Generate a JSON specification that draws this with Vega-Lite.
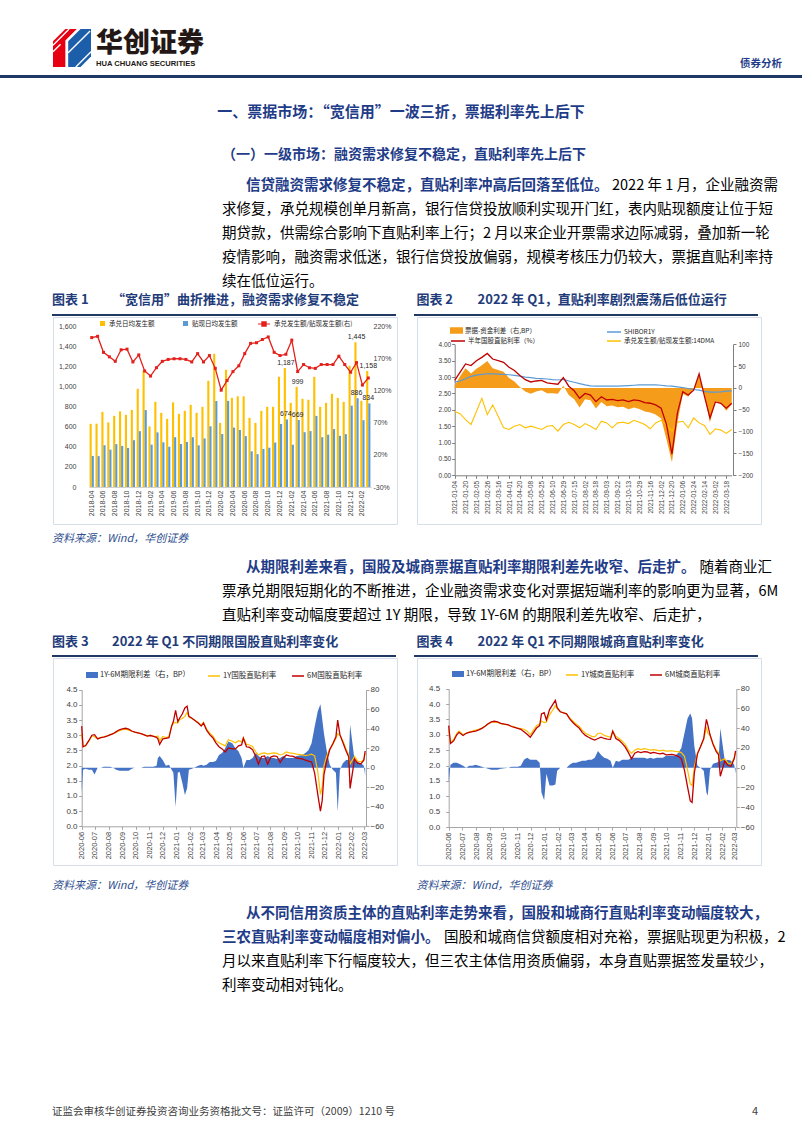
{
"$schema": "https://vega.github.io/schema/vega-lite/v6.json",
"padding": 0,
"background": "white",
"spacing": 0,
"config": {
 "font": "Noto Sans CJK SC",
 "view": {"stroke": null},
 "axis": {"labelFont": "Liberation Sans", "labelColor": "#404040", "grid": false, "title": null},
 "legend": {"labelFont": "Noto Sans CJK SC", "labelColor": "#262626", "title": null},
 "concat": {"spacing": 0}
},
"datasets": {
 "c1": [
  {"m":"2018-04","acc":630,"disc":310,"r":203},{"m":"2018-05","acc":632,"disc":308,"r":205},{"m":"2018-06","acc":750,"disc":417,"r":180},{"m":"2018-07","acc":645,"disc":373,"r":173},{"m":"2018-08","acc":710,"disc":428,"r":166},{"m":"2018-09","acc":755,"disc":410,"r":184},{"m":"2018-10","acc":720,"disc":389,"r":185},{"m":"2018-11","acc":770,"disc":467,"r":165},{"m":"2018-12","acc":980,"disc":557,"r":176},
  {"m":"2019-01","acc":1160,"disc":768,"r":151},{"m":"2019-02","acc":605,"disc":423,"r":143},{"m":"2019-03","acc":850,"disc":545,"r":156},{"m":"2019-04","acc":740,"disc":446,"r":166},{"m":"2019-05","acc":680,"disc":402,"r":169},{"m":"2019-06","acc":845,"disc":497,"r":170},{"m":"2019-07","acc":730,"disc":429,"r":170},{"m":"2019-08","acc":760,"disc":450,"r":169},{"m":"2019-09","acc":820,"disc":497,"r":165},{"m":"2019-10","acc":740,"disc":416,"r":178},{"m":"2019-11","acc":800,"disc":485,"r":165},{"m":"2019-12","acc":1060,"disc":606,"r":175},
  {"m":"2020-01","acc":1330,"disc":858,"r":155},{"m":"2020-02","acc":640,"disc":529,"r":121},{"m":"2020-03","acc":1170,"disc":860,"r":136},{"m":"2020-04","acc":890,"disc":593,"r":150},{"m":"2020-05","acc":905,"disc":569,"r":159},{"m":"2020-06","acc":905,"disc":508,"r":178},{"m":"2020-07","acc":690,"disc":356,"r":194},{"m":"2020-08","acc":640,"disc":328,"r":195},{"m":"2020-09","acc":760,"disc":380,"r":200},{"m":"2020-10","acc":800,"disc":392,"r":204},{"m":"2020-11","acc":800,"disc":444,"r":180},{"m":"2020-12","acc":1100,"disc":629,"r":175},
  {"m":"2021-01","acc":1187,"disc":674,"r":177},{"m":"2021-02","acc":840,"disc":422,"r":199},{"m":"2021-03","acc":999,"disc":669,"r":150},{"m":"2021-04","acc":880,"disc":547,"r":161},{"m":"2021-05","acc":870,"disc":558,"r":156},{"m":"2021-06","acc":1100,"disc":710,"r":155},{"m":"2021-07","acc":800,"disc":497,"r":161},{"m":"2021-08","acc":840,"disc":522,"r":161},{"m":"2021-09","acc":930,"disc":578,"r":161},{"m":"2021-10","acc":890,"disc":511,"r":174},{"m":"2021-11","acc":850,"disc":528,"r":161},{"m":"2021-12","acc":1210,"disc":812,"r":149},
  {"m":"2022-01","acc":1445,"disc":886,"r":164},{"m":"2022-02","acc":860,"disc":667,"r":129},{"m":"2022-03","acc":1158,"disc":834,"r":140}
 ],
 "c2": [
  {"d":"2021-01-04","sp":5,"sh":2.85,"r":2.90,"c":1.95},{"d":"2021-01-12","sp":27,"sh":2.88,"r":3.15,"c":1.88},{"d":"2021-01-20","sp":45,"sh":2.95,"r":3.40,"c":1.70},{"d":"2021-01-28","sp":33,"sh":3.02,"r":3.35,"c":1.55},{"d":"2021-02-05","sp":44,"sh":3.06,"r":3.50,"c":1.95},{"d":"2021-02-19","sp":52,"sh":3.08,"r":3.60,"c":2.35},{"d":"2021-02-26","sp":62,"sh":3.10,"r":3.72,"c":1.85},{"d":"2021-03-08","sp":45,"sh":3.10,"r":3.55,"c":2.15},{"d":"2021-03-16","sp":41,"sh":3.09,"r":3.50,"c":1.80},{"d":"2021-03-24","sp":37,"sh":3.08,"r":3.45,"c":1.45},
  {"d":"2021-04-01","sp":23,"sh":3.07,"r":3.30,"c":1.40},{"d":"2021-04-12","sp":15,"sh":3.05,"r":3.20,"c":1.50},{"d":"2021-04-20","sp":2,"sh":3.03,"r":3.05,"c":1.55},{"d":"2021-04-28","sp":-8,"sh":3.00,"r":2.92,"c":1.45},{"d":"2021-05-08","sp":-13,"sh":2.98,"r":2.85,"c":1.50},{"d":"2021-05-17","sp":-8,"sh":2.96,"r":2.88,"c":1.45},{"d":"2021-05-25","sp":-5,"sh":2.95,"r":2.90,"c":1.40},{"d":"2021-06-02","sp":-12,"sh":2.94,"r":2.82,"c":1.50},{"d":"2021-06-10","sp":-12,"sh":2.92,"r":2.80,"c":1.52},{"d":"2021-06-21","sp":-13,"sh":2.91,"r":2.78,"c":1.35},
  {"d":"2021-06-29","sp":5,"sh":2.93,"r":2.98,"c":1.55},{"d":"2021-07-07","sp":-16,"sh":2.88,"r":2.72,"c":1.62},{"d":"2021-07-15","sp":-26,"sh":2.84,"r":2.58,"c":1.55},{"d":"2021-07-23","sp":-45,"sh":2.80,"r":2.35,"c":1.45},{"d":"2021-08-02","sp":-26,"sh":2.76,"r":2.50,"c":1.58},{"d":"2021-08-10","sp":-28,"sh":2.73,"r":2.45,"c":1.50},{"d":"2021-08-18","sp":-47,"sh":2.72,"r":2.25,"c":1.40},{"d":"2021-08-26","sp":-32,"sh":2.72,"r":2.40,"c":1.65},{"d":"2021-09-03","sp":-42,"sh":2.72,"r":2.30,"c":1.60},{"d":"2021-09-13","sp":-40,"sh":2.72,"r":2.32,"c":1.45},
  {"d":"2021-09-22","sp":-44,"sh":2.72,"r":2.28,"c":1.60},{"d":"2021-09-30","sp":-43,"sh":2.73,"r":2.30,"c":1.62},{"d":"2021-10-13","sp":-49,"sh":2.74,"r":2.25,"c":1.58},{"d":"2021-10-21","sp":-45,"sh":2.75,"r":2.30,"c":1.68},{"d":"2021-10-29","sp":-48,"sh":2.76,"r":2.28,"c":1.62},{"d":"2021-11-08","sp":-54,"sh":2.76,"r":2.22,"c":1.55},{"d":"2021-11-16","sp":-56,"sh":2.76,"r":2.20,"c":1.42},{"d":"2021-11-24","sp":-61,"sh":2.76,"r":2.15,"c":1.60},{"d":"2021-12-02","sp":-70,"sh":2.75,"r":2.05,"c":1.68},{"d":"2021-12-10","sp":-118,"sh":2.73,"r":1.55,"c":1.55},
  {"d":"2021-12-20","sp":-170,"sh":2.72,"r":0.65,"c":1.35},{"d":"2021-12-28","sp":-80,"sh":2.70,"r":1.90,"c":1.62},{"d":"2022-01-06","sp":-13,"sh":2.68,"r":2.55,"c":1.65},{"d":"2022-01-14","sp":-20,"sh":2.65,"r":2.45,"c":1.45},{"d":"2022-01-24","sp":-2,"sh":2.62,"r":2.60,"c":1.75},{"d":"2022-01-28","sp":30,"sh":2.60,"r":3.10,"c":1.60},{"d":"2022-02-14","sp":-16,"sh":2.56,"r":2.40,"c":1.52},{"d":"2022-02-22","sp":-79,"sh":2.54,"r":1.75,"c":1.25},{"d":"2022-03-02","sp":-30,"sh":2.54,"r":2.24,"c":1.42},{"d":"2022-03-10","sp":-35,"sh":2.55,"r":2.20,"c":1.38},
  {"d":"2022-03-18","sp":-52,"sh":2.57,"r":2.05,"c":1.28},{"d":"2022-03-28","sp":-38,"sh":2.58,"r":2.20,"c":1.40}
 ],
 "c3": [
  {"d":"2020-06-01","y1":3.05,"y6":3.30,"sp":-25},{"d":"2020-06-04","y1":2.62,"y6":2.62,"sp":-2},{"d":"2020-06-10","y1":2.65,"y6":2.66,"sp":-1},{"d":"2020-06-17","y1":2.80,"y6":2.82,"sp":-2},{"d":"2020-06-24","y1":2.98,"y6":3.00,"sp":-2},{"d":"2020-06-30","y1":2.95,"y6":3.02,"sp":-7},{"d":"2020-07-07","y1":2.88,"y6":2.88,"sp":0},{"d":"2020-07-14","y1":2.92,"y6":2.92,"sp":0},{"d":"2020-07-21","y1":2.95,"y6":2.94,"sp":1},{"d":"2020-07-28","y1":2.98,"y6":2.97,"sp":1},
  {"d":"2020-08-04","y1":3.02,"y6":3.01,"sp":1},{"d":"2020-08-11","y1":3.05,"y6":3.05,"sp":0},{"d":"2020-08-18","y1":3.10,"y6":3.12,"sp":-2},{"d":"2020-08-25","y1":3.15,"y6":3.18,"sp":-3},{"d":"2020-09-01","y1":3.18,"y6":3.21,"sp":-3},{"d":"2020-09-08","y1":3.20,"y6":3.23,"sp":-3},{"d":"2020-09-15","y1":3.17,"y6":3.20,"sp":-3},{"d":"2020-09-22","y1":3.13,"y6":3.14,"sp":-1},{"d":"2020-09-29","y1":3.10,"y6":3.10,"sp":0},{"d":"2020-10-13","y1":3.05,"y6":3.05,"sp":0},
  {"d":"2020-10-20","y1":3.02,"y6":3.01,"sp":1},{"d":"2020-10-27","y1":2.98,"y6":2.97,"sp":1},{"d":"2020-11-03","y1":3.00,"y6":2.99,"sp":1},{"d":"2020-11-10","y1":2.97,"y6":2.96,"sp":1},{"d":"2020-11-17","y1":2.95,"y6":2.93,"sp":2},{"d":"2020-11-20","y1":2.98,"y6":2.88,"sp":10},{"d":"2020-11-24","y1":2.82,"y6":2.70,"sp":12},{"d":"2020-12-01","y1":2.96,"y6":2.88,"sp":8},{"d":"2020-12-08","y1":2.92,"y6":2.90,"sp":2},{"d":"2020-12-15","y1":2.95,"y6":2.92,"sp":3},
  {"d":"2020-12-21","y1":3.28,"y6":3.30,"sp":-2},{"d":"2020-12-25","y1":3.40,"y6":3.45,"sp":-5},{"d":"2020-12-30","y1":3.42,"y6":3.82,"sp":-40},{"d":"2021-01-04","y1":3.40,"y6":3.45,"sp":-5},{"d":"2021-01-08","y1":3.52,"y6":3.56,"sp":-4},{"d":"2021-01-14","y1":3.55,"y6":3.70,"sp":-15},{"d":"2021-01-20","y1":3.62,"y6":3.90,"sp":-28},{"d":"2021-01-25","y1":3.75,"y6":3.96,"sp":-21},{"d":"2021-01-29","y1":3.60,"y6":3.62,"sp":-2},{"d":"2021-02-05","y1":3.55,"y6":3.56,"sp":-1},
  {"d":"2021-02-19","y1":3.42,"y6":3.40,"sp":2},{"d":"2021-02-26","y1":3.33,"y6":3.30,"sp":3},{"d":"2021-03-03","y1":3.42,"y6":3.40,"sp":2},{"d":"2021-03-10","y1":3.20,"y6":3.17,"sp":3},{"d":"2021-03-17","y1":3.08,"y6":3.02,"sp":6},{"d":"2021-03-24","y1":2.98,"y6":2.92,"sp":6},{"d":"2021-03-31","y1":2.82,"y6":2.75,"sp":7},{"d":"2021-04-07","y1":2.75,"y6":2.62,"sp":13},{"d":"2021-04-14","y1":2.70,"y6":2.55,"sp":15},{"d":"2021-04-21","y1":2.65,"y6":2.45,"sp":20},
  {"d":"2021-04-28","y1":2.85,"y6":2.58,"sp":27},{"d":"2021-05-07","y1":2.80,"y6":2.55,"sp":25},{"d":"2021-05-14","y1":2.75,"y6":2.55,"sp":20},{"d":"2021-05-21","y1":2.82,"y6":2.65,"sp":17},{"d":"2021-05-28","y1":2.78,"y6":2.68,"sp":10},{"d":"2021-06-01","y1":2.92,"y6":2.90,"sp":0},{"d":"2021-06-08","y1":2.70,"y6":2.62,"sp":8},{"d":"2021-06-15","y1":2.68,"y6":2.60,"sp":8},{"d":"2021-06-22","y1":2.62,"y6":2.52,"sp":10},{"d":"2021-06-29","y1":2.45,"y6":2.30,"sp":15},
  {"d":"2021-07-05","y1":2.35,"y6":2.05,"sp":12},{"d":"2021-07-12","y1":2.40,"y6":2.30,"sp":10},{"d":"2021-07-19","y1":2.42,"y6":2.32,"sp":10},{"d":"2021-07-26","y1":2.38,"y6":2.05,"sp":12},{"d":"2021-08-02","y1":2.40,"y6":2.28,"sp":10},{"d":"2021-08-09","y1":2.42,"y6":2.32,"sp":10},{"d":"2021-08-16","y1":2.40,"y6":2.30,"sp":9},{"d":"2021-08-23","y1":2.35,"y6":2.10,"sp":10},{"d":"2021-08-30","y1":2.38,"y6":2.25,"sp":12},{"d":"2021-09-06","y1":2.45,"y6":2.35,"sp":10},
  {"d":"2021-09-13","y1":2.42,"y6":2.32,"sp":10},{"d":"2021-09-22","y1":2.40,"y6":2.30,"sp":10},{"d":"2021-09-29","y1":2.38,"y6":2.25,"sp":12},{"d":"2021-10-12","y1":2.35,"y6":2.22,"sp":13},{"d":"2021-10-19","y1":2.33,"y6":2.18,"sp":15},{"d":"2021-10-26","y1":2.35,"y6":2.15,"sp":18},{"d":"2021-11-02","y1":2.38,"y6":2.12,"sp":25},{"d":"2021-11-09","y1":2.32,"y6":1.75,"sp":42},{"d":"2021-11-16","y1":1.80,"y6":1.05,"sp":58},{"d":"2021-11-22","y1":1.05,"y6":0.50,"sp":65},
  {"d":"2021-11-26","y1":1.30,"y6":0.85,"sp":50},{"d":"2021-11-30","y1":2.00,"y6":1.70,"sp":35},{"d":"2021-12-06","y1":2.30,"y6":2.15,"sp":18},{"d":"2021-12-13","y1":2.55,"y6":2.52,"sp":3},{"d":"2021-12-20","y1":2.70,"y6":2.72,"sp":-2},{"d":"2021-12-27","y1":2.90,"y6":2.95,"sp":-5},{"d":"2021-12-31","y1":3.05,"y6":3.50,"sp":-45},{"d":"2022-01-05","y1":3.00,"y6":3.02,"sp":-2},{"d":"2022-01-12","y1":2.80,"y6":2.75,"sp":5},{"d":"2022-01-19","y1":2.55,"y6":2.48,"sp":8},
  {"d":"2022-01-25","y1":2.35,"y6":2.28,"sp":8},{"d":"2022-01-28","y1":2.05,"y6":1.25,"sp":44},{"d":"2022-02-07","y1":2.30,"y6":2.22,"sp":8},{"d":"2022-02-14","y1":2.15,"y6":2.08,"sp":6},{"d":"2022-02-21","y1":2.12,"y6":2.05,"sp":5},{"d":"2022-02-28","y1":2.20,"y6":2.18,"sp":2},{"d":"2022-03-03","y1":2.40,"y6":2.48,"sp":-8}
 ],
 "c4": [
  {"d":"2020-06-01","y1":3.15,"y6":3.30,"sp":-15},{"d":"2020-06-05","y1":2.75,"y6":2.72,"sp":3},{"d":"2020-06-12","y1":2.85,"y6":2.80,"sp":5},{"d":"2020-06-19","y1":3.05,"y6":3.00,"sp":5},{"d":"2020-06-24","y1":3.12,"y6":3.08,"sp":4},{"d":"2020-07-03","y1":3.00,"y6":2.98,"sp":2},{"d":"2020-07-10","y1":3.05,"y6":3.05,"sp":0},{"d":"2020-07-17","y1":3.10,"y6":3.08,"sp":2},{"d":"2020-07-24","y1":3.12,"y6":3.10,"sp":2},{"d":"2020-07-31","y1":3.15,"y6":3.12,"sp":3},
  {"d":"2020-08-07","y1":3.18,"y6":3.16,"sp":2},{"d":"2020-08-14","y1":3.22,"y6":3.21,"sp":1},{"d":"2020-08-21","y1":3.28,"y6":3.28,"sp":0},{"d":"2020-08-28","y1":3.35,"y6":3.36,"sp":-1},{"d":"2020-09-04","y1":3.40,"y6":3.42,"sp":-2},{"d":"2020-09-11","y1":3.42,"y6":3.44,"sp":-2},{"d":"2020-09-18","y1":3.40,"y6":3.42,"sp":-2},{"d":"2020-09-25","y1":3.36,"y6":3.37,"sp":-1},{"d":"2020-10-12","y1":3.32,"y6":3.32,"sp":0},{"d":"2020-10-19","y1":3.28,"y6":3.27,"sp":1},
  {"d":"2020-10-26","y1":3.25,"y6":3.24,"sp":1},{"d":"2020-11-02","y1":3.22,"y6":3.21,"sp":1},{"d":"2020-11-09","y1":3.20,"y6":3.18,"sp":2},{"d":"2020-11-16","y1":3.18,"y6":3.10,"sp":8},{"d":"2020-11-23","y1":3.12,"y6":3.02,"sp":10},{"d":"2020-11-30","y1":3.00,"y6":2.92,"sp":8},{"d":"2020-12-07","y1":3.15,"y6":3.07,"sp":8},{"d":"2020-12-14","y1":3.30,"y6":3.22,"sp":8},{"d":"2020-12-21","y1":3.35,"y6":3.30,"sp":5},{"d":"2020-12-25","y1":3.45,"y6":3.68,"sp":-25},
  {"d":"2020-12-31","y1":3.40,"y6":3.72,"sp":-33},{"d":"2021-01-05","y1":3.42,"y6":3.48,"sp":-6},{"d":"2021-01-12","y1":3.65,"y6":3.82,"sp":-18},{"d":"2021-01-19","y1":3.80,"y6":3.98,"sp":-18},{"d":"2021-01-25","y1":3.95,"y6":4.12,"sp":-17},{"d":"2021-01-29","y1":3.85,"y6":3.88,"sp":-3},{"d":"2021-02-05","y1":3.75,"y6":3.75,"sp":0},{"d":"2021-02-19","y1":3.68,"y6":3.68,"sp":0},{"d":"2021-02-26","y1":3.55,"y6":3.52,"sp":3},{"d":"2021-03-05","y1":3.45,"y6":3.40,"sp":5},
  {"d":"2021-03-12","y1":3.35,"y6":3.30,"sp":5},{"d":"2021-03-19","y1":3.28,"y6":3.22,"sp":6},{"d":"2021-03-26","y1":3.15,"y6":3.08,"sp":7},{"d":"2021-04-02","y1":3.05,"y6":2.98,"sp":7},{"d":"2021-04-09","y1":3.00,"y6":2.92,"sp":8},{"d":"2021-04-16","y1":2.95,"y6":2.87,"sp":8},{"d":"2021-04-23","y1":2.93,"y6":2.83,"sp":10},{"d":"2021-04-30","y1":3.05,"y6":2.88,"sp":17},{"d":"2021-05-07","y1":3.05,"y6":2.92,"sp":13},{"d":"2021-05-14","y1":2.98,"y6":2.88,"sp":10},
  {"d":"2021-05-21","y1":2.95,"y6":2.86,"sp":9},{"d":"2021-05-28","y1":2.92,"y6":2.85,"sp":7},{"d":"2021-06-02","y1":3.12,"y6":3.12,"sp":0},{"d":"2021-06-09","y1":2.95,"y6":2.88,"sp":7},{"d":"2021-06-16","y1":2.88,"y6":2.82,"sp":6},{"d":"2021-06-23","y1":2.80,"y6":2.72,"sp":8},{"d":"2021-06-30","y1":2.68,"y6":2.60,"sp":8},{"d":"2021-07-07","y1":2.50,"y6":2.42,"sp":8},{"d":"2021-07-14","y1":2.40,"y6":2.22,"sp":10},{"d":"2021-07-21","y1":2.50,"y6":2.40,"sp":10},
  {"d":"2021-07-28","y1":2.55,"y6":2.45,"sp":10},{"d":"2021-08-04","y1":2.52,"y6":2.42,"sp":10},{"d":"2021-08-11","y1":2.55,"y6":2.45,"sp":10},{"d":"2021-08-18","y1":2.53,"y6":2.44,"sp":9},{"d":"2021-08-25","y1":2.50,"y6":2.40,"sp":10},{"d":"2021-09-01","y1":2.52,"y6":2.43,"sp":9},{"d":"2021-09-08","y1":2.50,"y6":2.40,"sp":10},{"d":"2021-09-15","y1":2.48,"y6":2.38,"sp":10},{"d":"2021-09-22","y1":2.50,"y6":2.40,"sp":10},{"d":"2021-09-29","y1":2.47,"y6":2.35,"sp":12},
  {"d":"2021-10-12","y1":2.48,"y6":2.36,"sp":12},{"d":"2021-10-19","y1":2.46,"y6":2.34,"sp":12},{"d":"2021-10-26","y1":2.45,"y6":2.30,"sp":15},{"d":"2021-11-02","y1":2.42,"y6":2.22,"sp":20},{"d":"2021-11-09","y1":2.30,"y6":1.85,"sp":35},{"d":"2021-11-16","y1":1.85,"y6":1.30,"sp":50},{"d":"2021-11-22","y1":1.40,"y6":0.85,"sp":55},{"d":"2021-11-26","y1":1.35,"y6":0.80,"sp":50},{"d":"2021-12-01","y1":1.95,"y6":1.75,"sp":22},{"d":"2021-12-08","y1":2.40,"y6":2.38,"sp":2},
  {"d":"2021-12-15","y1":2.62,"y6":2.62,"sp":0},{"d":"2021-12-22","y1":2.85,"y6":2.88,"sp":-3},{"d":"2021-12-28","y1":3.25,"y6":3.50,"sp":-25},{"d":"2021-12-31","y1":3.05,"y6":3.33,"sp":-28},{"d":"2022-01-05","y1":2.98,"y6":3.00,"sp":-2},{"d":"2022-01-12","y1":2.72,"y6":2.68,"sp":4},{"d":"2022-01-19","y1":2.50,"y6":2.45,"sp":5},{"d":"2022-01-24","y1":2.42,"y6":2.36,"sp":6},{"d":"2022-01-28","y1":2.15,"y6":1.65,"sp":40},{"d":"2022-02-07","y1":2.22,"y6":2.15,"sp":7},
  {"d":"2022-02-14","y1":2.08,"y6":2.00,"sp":8},{"d":"2022-02-21","y1":2.05,"y6":1.98,"sp":7},{"d":"2022-02-28","y1":2.25,"y6":2.22,"sp":3},{"d":"2022-03-03","y1":2.42,"y6":2.48,"sp":-6}
 ]
},
"vconcat": [
 {"spacing": 0, "hconcat": [
  {"width": 50, "height": 1, "data": {"values": []}, "mark": "point"},
  {"width": 170, "height": 75,
   "encoding": {
    "x": {"field": "col", "type": "quantitative", "scale": {"domain": [0, 1], "range": [0, 4]}, "axis": null},
    "y": {"field": "row", "type": "quantitative", "scale": {"domain": [0, 1], "range": [0, 4]}, "axis": null}
   },
   "layer": [
    {"data": {"values": [{"col": 5, "row": 12}]}, "mark": {"type": "point", "shape": "M-1,-0.35L-0.35,-1L0.25,-1L-0.35,-0.4L-0.35,1L-1,1Z", "size": 1444, "filled": true, "color": "#e60012", "opacity": 1, "strokeWidth": 0}},
    {"data": {"values": [{"col": 5, "row": 12}]}, "mark": {"type": "point", "shape": "M-0.2,-0.35L0.45,-1L1,-1L1,0.45L0.45,1L-0.2,1Z", "size": 1444, "filled": true, "color": "#1d5eab", "opacity": 1, "strokeWidth": 0}},
    {"data": {"values": [{"col": 5, "row": 12}]}, "mark": {"type": "point", "shape": "M-1,-0.15L-0.15,-1M-1,0.2L-0.6,-0.2M0.2,1L1,0.2M0.6,1L1,0.6M-0.2,0.25L0.95,-0.9", "size": 1444, "filled": false, "stroke": "#ffffff", "strokeWidth": 1.4, "opacity": 1}},
    {"data": {"values": [{"col": 11, "row": 11, "t": "华创证券"}]}, "mark": {"type": "text", "align": "left", "baseline": "middle", "fontSize": 27, "fontWeight": 900, "color": "#231815"}, "encoding": {"text": {"field": "t"}}},
    {"data": {"values": [{"col": 11, "row": 16, "t": "HUA CHUANG SECURITIES"}]}, "mark": {"type": "text", "align": "left", "baseline": "middle", "fontSize": 7.6, "fontWeight": "bold", "font": "Liberation Sans", "color": "#231815"}, "encoding": {"text": {"field": "t"}}}
   ]
  },
  {"width": 518, "height": 1, "data": {"values": []}, "mark": "point"},
  {"width": 64, "height": 75,
   "data": {"values": [{"col": 0, "row": 16, "t": "债券分析"}]},
   "mark": {"type": "text", "align": "left", "baseline": "middle", "fontSize": 10.5, "fontWeight": "bold", "color": "#1f3c88"},
   "encoding": {
    "x": {"field": "col", "type": "quantitative", "scale": {"domain": [0, 1], "range": [0, 4]}, "axis": null},
    "y": {"field": "row", "type": "quantitative", "scale": {"domain": [0, 1], "range": [0, 4]}, "axis": null},
    "text": {"field": "t"}
   }
  }
 ]},
 {"width": 802, "height": 3, "data": {"values": []}, "mark": "point", "view": {"fill": "#1f3864", "stroke": null}},
 {"width": 802, "height": 68,
  "data": {"values": [{"t": "一、票据市场：“宽信用”一波三折，票据利率先上后下"}]},
  "mark": {"type": "text", "align": "center", "baseline": "middle", "fontSize": 15, "fontWeight": "bold", "color": "#1f3c88"},
  "encoding": {"text": {"field": "t"}}
 },
 {"spacing": 0, "hconcat": [
  {"width": 222, "height": 1, "data": {"values": []}, "mark": "point"},
  {"width": 580, "height": 20,
   "data": {"values": [{"col": 0, "line": 0, "t": "（一）一级市场：融资需求修复不稳定，直贴利率先上后下"}]},
   "mark": {"type": "text", "align": "left", "baseline": "middle", "fontSize": 14, "fontWeight": "bold", "color": "#1f3c88"},
   "encoding": {
    "x": {"field": "col", "type": "quantitative", "scale": {"domain": [0, 1], "range": [0, 12]}, "axis": null},
    "y": {"field": "line", "type": "quantitative", "scale": {"domain": [0, 1], "range": [9, 33]}, "axis": null},
    "text": {"field": "t"}
   }
  }
 ]},
 {"spacing": 0, "hconcat": [
  {"width": 222, "height": 1, "data": {"values": []}, "mark": "point"},
  {"width": 580, "height": 123,
   "data": {"values": [
    {"line": 0, "col": 2, "s": "b", "t": "信贷融资需求修复不稳定，直贴利率冲高后回落至低位。"},
    {"line": 0, "col": 32.5, "s": "n", "t": "2022 年 1 月，企业融资需"},
    {"line": 1, "col": 0, "s": "n", "t": "求修复，承兑规模创单月新高，银行信贷投放顺利实现开门红，表内贴现额度让位于短"},
    {"line": 2, "col": 0, "s": "n", "t": "期贷款，供需综合影响下直贴利率上行；2 月以来企业开票需求边际减弱，叠加新一轮"},
    {"line": 3, "col": 0, "s": "n", "t": "疫情影响，融资需求低迷，银行信贷投放偏弱，规模考核压力仍较大，票据直贴利率持"},
    {"line": 4, "col": 0, "s": "n", "t": "续在低位运行。"}
   ]},
   "encoding": {
    "x": {"field": "col", "type": "quantitative", "scale": {"domain": [0, 1], "range": [0, 12]}, "axis": null},
    "y": {"field": "line", "type": "quantitative", "scale": {"domain": [0, 1], "range": [20, 44]}, "axis": null},
    "text": {"field": "t"}
   },
   "layer": [
    {"transform": [{"filter": "datum.s === 'n'"}], "mark": {"type": "text", "align": "left", "baseline": "middle", "fontSize": 14.5, "color": "#000000"}},
    {"transform": [{"filter": "datum.s === 'b'"}], "mark": {"type": "text", "align": "left", "baseline": "middle", "fontSize": 14.5, "fontWeight": "bold", "color": "#1f3c88"}}
   ]
  }
 ]},
 {"spacing": 0, "hconcat": [
  {"width": 52, "height": 1, "data": {"values": []}, "mark": "point"},
  {"width": 344, "height": 25,
   "data": {"values": [{"col": 0, "line": 0, "t": "图表 1"}, {"col": 5, "line": 0, "t": "“宽信用”曲折推进，融资需求修复不稳定"}]},
   "mark": {"type": "text", "align": "left", "baseline": "middle", "fontSize": 13, "fontWeight": "bold", "color": "#1f3c7a"},
   "encoding": {
    "x": {"field": "col", "type": "quantitative", "scale": {"domain": [0, 1], "range": [0, 12]}, "axis": null},
    "y": {"field": "line", "type": "quantitative", "scale": {"domain": [0, 1], "range": [11, 35]}, "axis": null},
    "text": {"field": "t"}
   }
  },
  {"width": 18, "height": 1, "data": {"values": []}, "mark": "point"},
  {"width": 344, "height": 25,
   "data": {"values": [{"col": 0.2, "line": 0, "t": "图表 2"}, {"col": 5.3, "line": 0, "t": "2022 年 Q1，直贴利率剧烈震荡后低位运行"}]},
   "mark": {"type": "text", "align": "left", "baseline": "middle", "fontSize": 13, "fontWeight": "bold", "color": "#1f3c7a"},
   "encoding": {
    "x": {"field": "col", "type": "quantitative", "scale": {"domain": [0, 1], "range": [0, 12]}, "axis": null},
    "y": {"field": "line", "type": "quantitative", "scale": {"domain": [0, 1], "range": [11, 35]}, "axis": null},
    "text": {"field": "t"}
   }
  }
 ]},
 {"spacing": 0, "hconcat": [
  {"width": 52, "height": 1, "data": {"values": []}, "mark": "point"},
  {"width": 344, "height": 2, "data": {"values": []}, "mark": "point", "view": {"fill": "#1f3864", "stroke": null}},
  {"width": 18, "height": 1, "data": {"values": []}, "mark": "point"},
  {"width": 344, "height": 2, "data": {"values": []}, "mark": "point", "view": {"fill": "#1f3864", "stroke": null}}
 ]},
 {"spacing": 0, "hconcat": [
  {"width": 52, "height": 1, "data": {"values": []}, "mark": "point"},
  {"width": 344, "height": 207,
   "view": {"stroke": "#d6dee9", "strokeWidth": 1},
   "data": {"name": "c1"},
   "resolve": {"scale": {"y": "independent", "color": "independent"}},
   "layer": [
    {"transform": [{"fold": ["acc", "disc"], "as": ["s", "v"]}],
     "mark": {"type": "bar"},
     "encoding": {
      "x": {"field": "m", "type": "ordinal", "scale": {"type": "band", "range": [36, 318], "paddingInner": 0.28, "paddingOuter": 0.1},
            "axis": {"orient": "bottom", "offset": -37, "values": ["2018-04","2018-06","2018-08","2018-10","2018-12","2019-02","2019-04","2019-06","2019-08","2019-10","2019-12","2020-02","2020-04","2020-06","2020-08","2020-10","2020-12","2021-02","2021-04","2021-06","2021-08","2021-10","2021-12","2022-02"], "labelAngle": -90, "labelFontSize": 7, "labelPadding": 3, "ticks": false, "domain": true, "domainColor": "#d0d0d0", "title": null}},
      "xOffset": {"field": "s", "type": "nominal", "scale": {"domain": ["acc", "disc"]}},
      "y": {"field": "v", "type": "quantitative", "scale": {"domain": [0, 1600], "range": [170, 9.7], "nice": false, "zero": false},
            "axis": {"orient": "left", "offset": -36, "values": [0,200,400,600,800,1000,1200,1400,1600], "format": ",d", "domain": false, "ticks": false, "labelPadding": 13, "labelFontSize": 7, "title": null}},
      "color": {"field": "s", "type": "nominal", "scale": {"domain": ["acc", "disc"], "range": ["#ffc000", "#5b9bd5"]},
                "legend": {"orient": "none", "legendX": 46, "legendY": 3, "direction": "horizontal", "title": null, "labelExpr": "datum.value === 'acc' ? '承兑日均发生额' : '贴现日均发生额'", "symbolType": "square", "symbolSize": 25, "labelFontSize": 6.5, "labelOffset": 3, "columnPadding": 27}}
     }
    },
    {"mark": {"type": "line", "strokeWidth": 1.3, "point": {"shape": "square", "size": 9, "filled": true}},
     "encoding": {
      "x": {"field": "m", "type": "ordinal"},
      "y": {"field": "r", "type": "quantitative", "scale": {"domain": [-30, 220], "range": [170, 9.7], "nice": false, "zero": false},
            "axis": {"orient": "right", "offset": -26, "values": [-30,20,70,120,170,220], "labelExpr": "datum.value + '%'", "domain": false, "ticks": false, "labelPadding": 2, "labelFontSize": 7, "title": null}},
      "color": {"datum": "承兑发生额/贴现发生额(右)", "scale": {"range": ["#e3201b"]},
                "legend": {"orient": "none", "legendX": 204, "legendY": 0, "title": null, "symbolType": "M-1,0H1M-0.35,-0.35H0.35V0.35H-0.35Z", "symbolSize": 144, "symbolStrokeWidth": 1.2, "symbolFillColor": "#e3201b", "symbolStrokeColor": "#e3201b", "labelFontSize": 6.5, "labelOffset": 3}}
     }
    },
    {"data": {"values": [
      {"m": "2021-01", "v": 1187, "lab": "1,187"}, {"m": "2021-03", "v": 999, "lab": "999"},
      {"m": "2021-01", "v": 674, "lab": "674"}, {"m": "2021-03", "v": 669, "lab": "669"},
      {"m": "2022-01", "v": 1445, "lab": "1,445"}, {"m": "2022-01", "v": 886, "lab": "886"},
      {"m": "2022-03", "v": 1158, "lab": "1,158"}, {"m": "2022-03", "v": 834, "lab": "834"}]},
     "mark": {"type": "text", "fontSize": 7, "baseline": "bottom", "dy": -2, "color": "#262626", "font": "Liberation Sans"},
     "encoding": {
      "x": {"field": "m", "type": "ordinal"},
      "y": {"field": "v", "type": "quantitative", "scale": {"domain": [0, 1600], "range": [170, 9.7], "nice": false, "zero": false}, "axis": null},
      "text": {"field": "lab"}
     }
    }
   ]
  },
  {"width": 18, "height": 1, "data": {"values": []}, "mark": "point"},
  {"width": 344, "height": 207,
   "view": {"stroke": "#d6dee9", "strokeWidth": 1},
   "data": {"name": "c2"},
   "resolve": {"scale": {"y": "independent", "color": "independent"}},
   "encoding": {
    "x": {"field": "d", "type": "ordinal", "scale": {"type": "point", "range": [37.7, 314.7], "padding": 0},
          "axis": {"orient": "bottom", "offset": -48.7, "values": ["2021-01-04","2021-01-20","2021-02-05","2021-02-26","2021-03-16","2021-04-01","2021-04-20","2021-05-08","2021-05-25","2021-06-10","2021-06-29","2021-07-15","2021-08-02","2021-08-18","2021-09-03","2021-09-22","2021-10-13","2021-10-29","2021-11-16","2021-12-02","2021-12-20","2022-01-06","2022-01-24","2022-02-14","2022-03-02","2022-03-18"], "labelAngle": -90, "labelFontSize": 6.5, "labelPadding": 2, "ticks": true, "tickSize": 3, "tickColor": "#7f7f7f", "domain": true, "domainColor": "#7f7f7f", "title": null}}
   },
   "layer": [
    {"mark": {"type": "area", "opacity": 1},
     "encoding": {
      "y": {"field": "sp", "type": "quantitative", "scale": {"domain": [-200, 100], "range": [158.3, 27.3], "nice": false},
            "axis": {"orient": "right", "offset": -28, "values": [-200,-150,-100,-50,0,50,100], "domain": true, "domainColor": "#7f7f7f", "ticks": true, "tickSize": 3, "tickColor": "#7f7f7f", "labelPadding": 2, "labelFontSize": 6.5, "title": null}},
      "color": {"datum": "票据-资金利差（右,BP）", "scale": {"range": ["#f59c1a"]},
                "legend": {"orient": "none", "legendX": 33, "legendY": 7, "title": null, "symbolType": "M-1,-0.5H1V0.5H-1Z", "symbolSize": 169, "symbolStrokeWidth": 0, "labelFontSize": 6.5, "labelOffset": 2}}
     }
    },
    {"mark": {"type": "line", "strokeWidth": 1.2},
     "encoding": {
      "y": {"field": "sh", "type": "quantitative", "scale": {"domain": [0, 4], "range": [158.3, 27.3], "nice": false, "zero": false},
            "axis": {"orient": "left", "offset": -37.7, "values": [0,0.5,1,1.5,2,2.5,3,3.5,4], "format": ".2f", "domain": true, "domainColor": "#7f7f7f", "ticks": true, "tickSize": 3, "tickColor": "#7f7f7f", "labelPadding": 1, "labelFontSize": 6.5, "title": null}},
      "color": {"datum": "SHIBOR1Y", "scale": {"range": ["#5b9bd5"]},
                "legend": {"orient": "none", "legendX": 189, "legendY": 7, "title": null, "symbolType": "stroke", "symbolSize": 196, "symbolStrokeWidth": 1.5, "labelFontSize": 6.5, "labelOffset": 2}}
     }
    },
    {"mark": {"type": "line", "strokeWidth": 1.1},
     "encoding": {
      "y": {"field": "c", "type": "quantitative", "scale": {"domain": [0, 4], "range": [158.3, 27.3], "nice": false, "zero": false}, "axis": null},
      "color": {"datum": "承兑发生额/贴现发生额:14DMA", "scale": {"range": ["#ffc000"]},
                "legend": {"orient": "none", "legendX": 189, "legendY": 16, "title": null, "symbolType": "stroke", "symbolSize": 196, "symbolStrokeWidth": 1.5, "labelFontSize": 6.5, "labelOffset": 2}}
     }
    },
    {"mark": {"type": "line", "strokeWidth": 1.3},
     "encoding": {
      "y": {"field": "r", "type": "quantitative", "scale": {"domain": [0, 4], "range": [158.3, 27.3], "nice": false, "zero": false}, "axis": null},
      "color": {"datum": "半年国股直贴利率（%）", "scale": {"range": ["#c00000"]},
                "legend": {"orient": "none", "legendX": 33, "legendY": 16, "title": null, "symbolType": "stroke", "symbolSize": 196, "symbolStrokeWidth": 1.5, "labelFontSize": 6.5, "labelOffset": 2}}
     }
    }
   ]
  }
 ]},
 {"spacing": 0, "hconcat": [
  {"width": 52, "height": 1, "data": {"values": []}, "mark": "point"},
  {"width": 344, "height": 28,
   "data": {"values": [{"col": 0, "line": 0, "t": "资料来源：Wind，华创证券"}]},
   "mark": {"type": "text", "align": "left", "baseline": "middle", "fontSize": 11, "fontStyle": "italic", "color": "#2f4f8f"},
   "encoding": {
    "x": {"field": "col", "type": "quantitative", "scale": {"domain": [0, 1], "range": [0, 12]}, "axis": null},
    "y": {"field": "line", "type": "quantitative", "scale": {"domain": [0, 1], "range": [14, 38]}, "axis": null},
    "text": {"field": "t"}
   }
  }
 ]},
 {"spacing": 0, "hconcat": [
  {"width": 222, "height": 1, "data": {"values": []}, "mark": "point"},
  {"width": 580, "height": 76,
   "data": {"values": [
    {"line": 0, "col": 2, "s": "b", "t": "从期限利差来看，国股及城商票据直贴利率期限利差先收窄、后走扩。"},
    {"line": 0, "col": 39.8, "s": "n", "t": "随着商业汇"},
    {"line": 1, "col": 0, "s": "n", "t": "票承兑期限短期化的不断推进，企业融资需求变化对票据短端利率的影响更为显著，6M"},
    {"line": 2, "col": 0, "s": "n", "t": "直贴利率变动幅度要超过 1Y 期限，导致 1Y-6M 的期限利差先收窄、后走扩，"}
   ]},
   "encoding": {
    "x": {"field": "col", "type": "quantitative", "scale": {"domain": [0, 1], "range": [0, 12]}, "axis": null},
    "y": {"field": "line", "type": "quantitative", "scale": {"domain": [0, 1], "range": [15, 39]}, "axis": null},
    "text": {"field": "t"}
   },
   "layer": [
    {"transform": [{"filter": "datum.s === 'n'"}], "mark": {"type": "text", "align": "left", "baseline": "middle", "fontSize": 14.5, "color": "#000000"}},
    {"transform": [{"filter": "datum.s === 'b'"}], "mark": {"type": "text", "align": "left", "baseline": "middle", "fontSize": 14.5, "fontWeight": "bold", "color": "#1f3c88"}}
   ]
  }
 ]},
 {"spacing": 0, "hconcat": [
  {"width": 52, "height": 1, "data": {"values": []}, "mark": "point"},
  {"width": 344, "height": 26,
   "data": {"values": [{"col": 0, "line": 0, "t": "图表 3"}, {"col": 5, "line": 0, "t": "2022 年 Q1 不同期限国股直贴利率变化"}]},
   "mark": {"type": "text", "align": "left", "baseline": "middle", "fontSize": 13, "fontWeight": "bold", "color": "#1f3c7a"},
   "encoding": {
    "x": {"field": "col", "type": "quantitative", "scale": {"domain": [0, 1], "range": [0, 12]}, "axis": null},
    "y": {"field": "line", "type": "quantitative", "scale": {"domain": [0, 1], "range": [13, 37]}, "axis": null},
    "text": {"field": "t"}
   }
  },
  {"width": 18, "height": 1, "data": {"values": []}, "mark": "point"},
  {"width": 344, "height": 26,
   "data": {"values": [{"col": 0.2, "line": 0, "t": "图表 4"}, {"col": 5.3, "line": 0, "t": "2022 年 Q1 不同期限城商直贴利率变化"}]},
   "mark": {"type": "text", "align": "left", "baseline": "middle", "fontSize": 13, "fontWeight": "bold", "color": "#1f3c7a"},
   "encoding": {
    "x": {"field": "col", "type": "quantitative", "scale": {"domain": [0, 1], "range": [0, 12]}, "axis": null},
    "y": {"field": "line", "type": "quantitative", "scale": {"domain": [0, 1], "range": [13, 37]}, "axis": null},
    "text": {"field": "t"}
   }
  }
 ]},
 {"spacing": 0, "hconcat": [
  {"width": 52, "height": 1, "data": {"values": []}, "mark": "point"},
  {"width": 344, "height": 2, "data": {"values": []}, "mark": "point", "view": {"fill": "#1f3864", "stroke": null}},
  {"width": 18, "height": 1, "data": {"values": []}, "mark": "point"},
  {"width": 344, "height": 2, "data": {"values": []}, "mark": "point", "view": {"fill": "#1f3864", "stroke": null}}
 ]},
 {"spacing": 0, "hconcat": [
  {"width": 52, "height": 1, "data": {"values": []}, "mark": "point"},
  {"width": 344, "height": 207,
   "view": {"stroke": "#d6dee9", "strokeWidth": 1},
   "data": {"name": "c3"},
   "resolve": {"scale": {"y": "independent", "color": "independent"}},
   "encoding": {
    "x": {"field": "d", "type": "temporal",
          "scale": {"type": "utc", "domain": [{"year": 2020, "month": 6, "date": 1, "utc": true}, {"year": 2022, "month": 3, "date": 4, "utc": true}], "range": [28.7, 312.6]},
          "axis": {"orient": "bottom", "offset": -38.7, "labelExpr": "utcFormat(datum.value, '%Y-%m')", "tickCount": {"interval": "month", "step": 1}, "labelAngle": -90, "labelFontSize": 7.5, "labelPadding": 2, "ticks": true, "tickSize": 3, "tickColor": "#a6a6a6", "domain": true, "domainColor": "#a6a6a6", "title": null, "labelOverlap": false}}
   },
   "layer": [
    {"mark": {"type": "area", "opacity": 1},
     "encoding": {
      "y": {"field": "sp", "type": "quantitative", "scale": {"domain": [-60, 80], "range": [168.3, 31.7], "nice": false},
            "axis": {"orient": "right", "offset": -31, "values": [-60,-40,-20,0,20,40,60,80], "domain": true, "domainColor": "#a6a6a6", "ticks": true, "tickSize": 3, "tickColor": "#a6a6a6", "labelPadding": 1, "labelFontSize": 8, "title": null}},
      "color": {"datum": "1Y-6M期限利差（右，BP）", "scale": {"range": ["#4472c4"]},
                "legend": {"orient": "none", "legendX": 33, "legendY": 11, "title": null, "symbolType": "M-1,-0.5H1V0.5H-1Z", "symbolSize": 144, "symbolStrokeWidth": 0, "labelFontSize": 7.5, "labelOffset": 2}}
     }
    },
    {"mark": {"type": "line", "strokeWidth": 1.2},
     "encoding": {
      "y": {"field": "y1", "type": "quantitative", "scale": {"domain": [0, 4.5], "range": [168.3, 31.7], "nice": false, "zero": false},
            "axis": {"orient": "left", "offset": -28.7, "values": [0,0.5,1,1.5,2,2.5,3,3.5,4,4.5], "domain": true, "domainColor": "#a6a6a6", "ticks": true, "tickSize": 3, "tickColor": "#a6a6a6", "labelPadding": 1.7, "labelFontSize": 8, "title": null}},
      "color": {"datum": "1Y国股直贴利率", "scale": {"range": ["#ffc000"]},
                "legend": {"orient": "none", "legendX": 154, "legendY": 11, "title": null, "symbolType": "stroke", "symbolSize": 144, "symbolStrokeWidth": 1.5, "labelFontSize": 7.5, "labelOffset": 2}}
     }
    },
    {"mark": {"type": "line", "strokeWidth": 1.3},
     "encoding": {
      "y": {"field": "y6", "type": "quantitative", "scale": {"domain": [0, 4.5], "range": [168.3, 31.7], "nice": false, "zero": false}, "axis": null},
      "color": {"datum": "6M国股直贴利率", "scale": {"range": ["#c00000"]},
                "legend": {"orient": "none", "legendX": 238, "legendY": 11, "title": null, "symbolType": "stroke", "symbolSize": 144, "symbolStrokeWidth": 1.5, "labelFontSize": 7.5, "labelOffset": 2}}
     }
    }
   ]
  },
  {"width": 18, "height": 1, "data": {"values": []}, "mark": "point"},
  {"width": 344, "height": 207,
   "view": {"stroke": "#d6dee9", "strokeWidth": 1},
   "data": {"name": "c4"},
   "resolve": {"scale": {"y": "independent", "color": "independent"}},
   "encoding": {
    "x": {"field": "d", "type": "temporal",
          "scale": {"type": "utc", "domain": [{"year": 2020, "month": 6, "date": 1, "utc": true}, {"year": 2022, "month": 3, "date": 4, "utc": true}], "range": [31.7, 319.0]},
          "axis": {"orient": "bottom", "offset": -38, "labelExpr": "utcFormat(datum.value, '%Y-%m')", "tickCount": {"interval": "month", "step": 1}, "labelAngle": -90, "labelFontSize": 7.5, "labelPadding": 2, "ticks": true, "tickSize": 3, "tickColor": "#a6a6a6", "domain": true, "domainColor": "#a6a6a6", "title": null, "labelOverlap": false}}
   },
   "layer": [
    {"mark": {"type": "area", "opacity": 1},
     "encoding": {
      "y": {"field": "sp", "type": "quantitative", "scale": {"domain": [-60, 80], "range": [169, 30.7], "nice": false},
            "axis": {"orient": "right", "offset": -24.7, "values": [-60,-40,-20,0,20,40,60,80], "domain": true, "domainColor": "#a6a6a6", "ticks": true, "tickSize": 3, "tickColor": "#a6a6a6", "labelPadding": 1, "labelFontSize": 8, "title": null}},
      "color": {"datum": "1Y-6M期限利差（右，BP）", "scale": {"range": ["#4472c4"]},
                "legend": {"orient": "none", "legendX": 35, "legendY": 10, "title": null, "symbolType": "M-1,-0.5H1V0.5H-1Z", "symbolSize": 144, "symbolStrokeWidth": 0, "labelFontSize": 7.5, "labelOffset": 2}}
     }
    },
    {"mark": {"type": "line", "strokeWidth": 1.2},
     "encoding": {
      "y": {"field": "y1", "type": "quantitative", "scale": {"domain": [0, 4.5], "range": [169, 30.7], "nice": false, "zero": false},
            "axis": {"orient": "left", "offset": -31.7, "values": [0,0.5,1,1.5,2,2.5,3,3.5,4,4.5], "domain": true, "domainColor": "#a6a6a6", "ticks": true, "tickSize": 3, "tickColor": "#a6a6a6", "labelPadding": 6, "labelFontSize": 8, "title": null}},
      "color": {"datum": "1Y城商直贴利率", "scale": {"range": ["#ffc000"]},
                "legend": {"orient": "none", "legendX": 148, "legendY": 10, "title": null, "symbolType": "stroke", "symbolSize": 144, "symbolStrokeWidth": 1.5, "labelFontSize": 7.5, "labelOffset": 2}}
     }
    },
    {"mark": {"type": "line", "strokeWidth": 1.3},
     "encoding": {
      "y": {"field": "y6", "type": "quantitative", "scale": {"domain": [0, 4.5], "range": [169, 30.7], "nice": false, "zero": false}, "axis": null},
      "color": {"datum": "6M城商直贴利率", "scale": {"range": ["#c00000"]},
                "legend": {"orient": "none", "legendX": 232, "legendY": 10, "title": null, "symbolType": "stroke", "symbolSize": 144, "symbolStrokeWidth": 1.5, "labelFontSize": 7.5, "labelOffset": 2}}
     }
    }
   ]
  }
 ]},
 {"spacing": 0, "hconcat": [
  {"width": 52, "height": 1, "data": {"values": []}, "mark": "point"},
  {"width": 344, "height": 34,
   "data": {"values": [{"col": 0, "line": 0, "t": "资料来源：Wind，华创证券"}]},
   "mark": {"type": "text", "align": "left", "baseline": "middle", "fontSize": 11, "fontStyle": "italic", "color": "#2f4f8f"},
   "encoding": {
    "x": {"field": "col", "type": "quantitative", "scale": {"domain": [0, 1], "range": [0, 12]}, "axis": null},
    "y": {"field": "line", "type": "quantitative", "scale": {"domain": [0, 1], "range": [20, 44]}, "axis": null},
    "text": {"field": "t"}
   }
  },
  {"width": 18, "height": 1, "data": {"values": []}, "mark": "point"},
  {"width": 344, "height": 34,
   "data": {"values": [{"col": 0.2, "line": 0, "t": "资料来源：Wind，华创证券"}]},
   "mark": {"type": "text", "align": "left", "baseline": "middle", "fontSize": 11, "fontStyle": "italic", "color": "#2f4f8f"},
   "encoding": {
    "x": {"field": "col", "type": "quantitative", "scale": {"domain": [0, 1], "range": [0, 12]}, "axis": null},
    "y": {"field": "line", "type": "quantitative", "scale": {"domain": [0, 1], "range": [20, 44]}, "axis": null},
    "text": {"field": "t"}
   }
  }
 ]},
 {"spacing": 0, "hconcat": [
  {"width": 222, "height": 1, "data": {"values": []}, "mark": "point"},
  {"width": 580, "height": 100,
   "data": {"values": [
    {"line": 0, "col": 2, "s": "b", "t": "从不同信用资质主体的直贴利率走势来看，国股和城商行直贴利率变动幅度较大，"},
    {"line": 1, "col": 0, "s": "b", "t": "三农直贴利率变动幅度相对偏小。"},
    {"line": 1, "col": 18.5, "s": "n", "t": "国股和城商信贷额度相对充裕，票据贴现更为积极，2"},
    {"line": 2, "col": 0, "s": "n", "t": "月以来直贴利率下行幅度较大，但三农主体信用资质偏弱，本身直贴票据签发量较少，"},
    {"line": 3, "col": 0, "s": "n", "t": "利率变动相对钝化。"}
   ]},
   "encoding": {
    "x": {"field": "col", "type": "quantitative", "scale": {"domain": [0, 1], "range": [0, 12]}, "axis": null},
    "y": {"field": "line", "type": "quantitative", "scale": {"domain": [0, 1], "range": [14, 38]}, "axis": null},
    "text": {"field": "t"}
   },
   "layer": [
    {"transform": [{"filter": "datum.s === 'n'"}], "mark": {"type": "text", "align": "left", "baseline": "middle", "fontSize": 14.5, "color": "#000000"}},
    {"transform": [{"filter": "datum.s === 'b'"}], "mark": {"type": "text", "align": "left", "baseline": "middle", "fontSize": 14.5, "fontWeight": "bold", "color": "#1f3c88"}}
   ]
  }
 ]},
 {"width": 802, "height": 100, "data": {"values": []}, "mark": "point"},
 {"spacing": 0, "hconcat": [
  {"width": 52, "height": 1, "data": {"values": []}, "mark": "point"},
  {"width": 640, "height": 24,
   "data": {"values": [{"col": 0, "line": 0, "t": "证监会审核华创证券投资咨询业务资格批文号：证监许可（2009）1210 号"}]},
   "mark": {"type": "text", "align": "left", "baseline": "middle", "fontSize": 10.5, "color": "#404040"},
   "encoding": {
    "x": {"field": "col", "type": "quantitative", "scale": {"domain": [0, 1], "range": [0, 12]}, "axis": null},
    "y": {"field": "line", "type": "quantitative", "scale": {"domain": [0, 1], "range": [12, 36]}, "axis": null},
    "text": {"field": "t"}
   }
  },
  {"width": 60, "height": 1, "data": {"values": []}, "mark": "point"},
  {"width": 30, "height": 24,
   "data": {"values": [{"col": 0, "line": 0, "t": "4"}]},
   "mark": {"type": "text", "align": "left", "baseline": "middle", "fontSize": 11, "color": "#404040"},
   "encoding": {
    "x": {"field": "col", "type": "quantitative", "scale": {"domain": [0, 1], "range": [0, 12]}, "axis": null},
    "y": {"field": "line", "type": "quantitative", "scale": {"domain": [0, 1], "range": [12, 36]}, "axis": null},
    "text": {"field": "t"}
   }
  }
 ]}
]
}
